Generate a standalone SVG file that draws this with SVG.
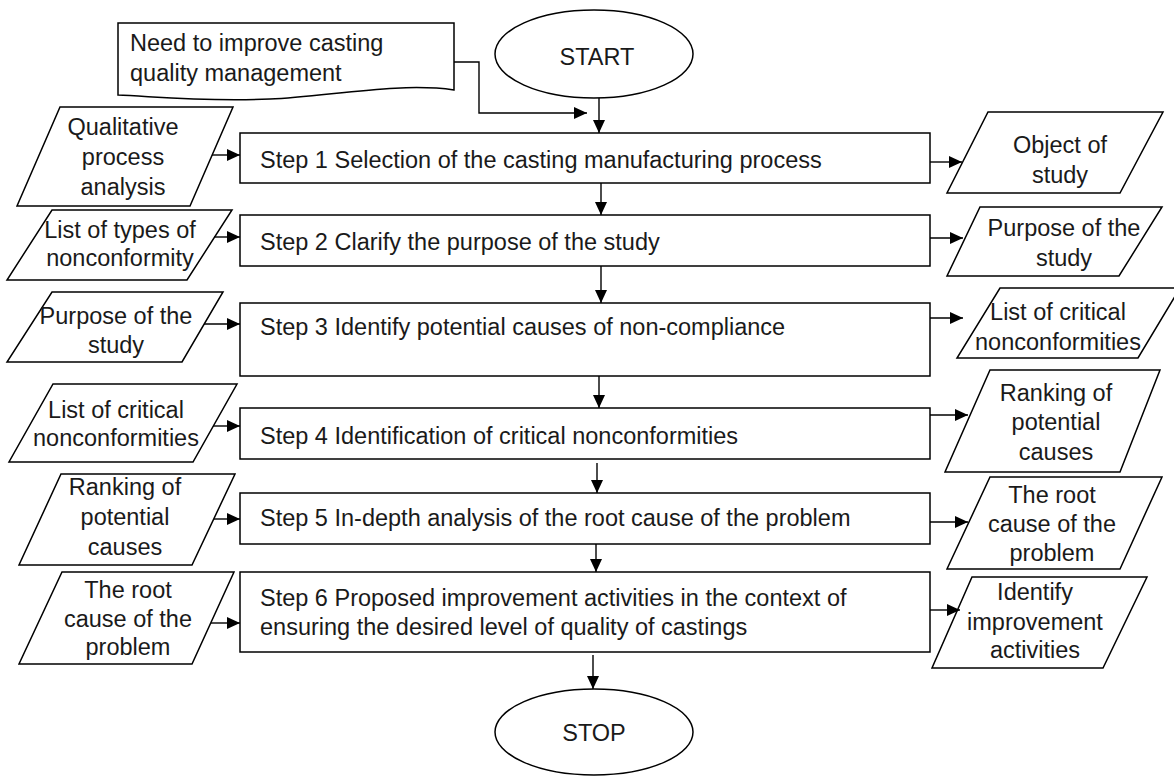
<svg xmlns="http://www.w3.org/2000/svg" width="1174" height="776" viewBox="0 0 1174 776">
<style>
.s{fill:#fff;stroke:#000;stroke-width:1.5}
.t{font-family:"Liberation Sans",Arial,sans-serif;font-size:23.5px;fill:#1a1a1a}
.c{text-anchor:middle}
.ln{fill:none;stroke:#000;stroke-width:1.4}
</style>
<defs>
<marker id="ah" markerWidth="13" markerHeight="12" refX="13" refY="6" orient="auto" markerUnits="userSpaceOnUse"><path d="M0,0 L13,6 L0,12 z" fill="#000"/></marker>
</defs>
<rect width="1174" height="776" fill="#fff"/>

<g id="need">
<path class="s" d="M118,23 H454 V90 C400,82 330,96 270,99 C200,102 150,96 118,95 Z"/>
<text class="t" x="130" y="51">Need to improve casting</text>
<text class="t" x="130" y="81">quality management</text>
</g>
<g id="start">
<ellipse class="s" cx="594" cy="54" rx="99" ry="44"/>
<text class="t c" x="597" y="65">START</text>
</g>

<g id="step1"><rect class="s" x="240" y="133" width="690" height="50"/><text class="t" x="260" y="168">Step 1 Selection of the casting manufacturing process</text></g>
<g id="step2"><rect class="s" x="240" y="215" width="690" height="51"/><text class="t" x="260" y="250">Step 2 Clarify the purpose of the study</text></g>
<g id="step3"><rect class="s" x="240" y="303" width="690" height="73"/><text class="t" x="260" y="335">Step 3 Identify potential causes of non-compliance</text></g>
<g id="step4"><rect class="s" x="240" y="408" width="690" height="51"/><text class="t" x="260" y="444">Step 4 Identification of critical nonconformities</text></g>
<g id="step5"><rect class="s" x="240" y="493" width="690" height="51"/><text class="t" x="260" y="526">Step 5 In-depth analysis of the root cause of the problem</text></g>
<g id="step6"><rect class="s" x="240" y="572" width="690" height="80"/><text class="t" x="260" y="606">Step 6 Proposed improvement activities in the context of</text><text class="t" x="260" y="635">ensuring the desired level of quality of castings</text></g>

<g id="stop">
<ellipse class="s" cx="594" cy="732" rx="99" ry="43"/>
<text class="t c" x="594" y="741">STOP</text>
</g>

<g id="in1"><path class="s" d="M60,107 H233 L190,206 H17 Z"/><text class="t c" x="123" y="135">Qualitative</text><text class="t c" x="123" y="165">process</text><text class="t c" x="123" y="195">analysis</text></g>
<g id="in2"><path class="s" d="M52,210 H232 L187,280 H7 Z"/><text class="t c" x="120" y="238">List of types of</text><text class="t c" x="120" y="266">nonconformity</text></g>
<g id="in3"><path class="s" d="M52,292 H223 L182,362 H7 Z"/><text class="t c" x="116" y="324">Purpose of the</text><text class="t c" x="116" y="353">study</text></g>
<g id="in4"><path class="s" d="M53,384 H237 L193,462 H9 Z"/><text class="t c" x="116" y="418">List of critical</text><text class="t c" x="116" y="446">nonconformities</text></g>
<g id="in5"><path class="s" d="M61,474 H235 L192,565 H19 Z"/><text class="t c" x="125" y="495">Ranking of</text><text class="t c" x="125" y="525">potential</text><text class="t c" x="125" y="555">causes</text></g>
<g id="in6"><path class="s" d="M62,572 H234 L192,664 H19 Z"/><text class="t c" x="128" y="598">The root</text><text class="t c" x="128" y="627">cause of the</text><text class="t c" x="128" y="655">problem</text></g>

<g id="out1"><path class="s" d="M988,112 H1163 L1120,193 H947 Z"/><text class="t c" x="1060" y="153">Object of</text><text class="t c" x="1060" y="183">study</text></g>
<g id="out2"><path class="s" d="M980,207 H1162 L1119,276 H947 Z"/><text class="t c" x="1064" y="236">Purpose of the</text><text class="t c" x="1064" y="266">study</text></g>
<g id="out3"><path class="s" d="M1000,288 H1180 L1138,358 H957 Z"/><text class="t c" x="1058" y="320">List of critical</text><text class="t c" x="1058" y="350">nonconformities</text></g>
<g id="out4"><path class="s" d="M990,370 H1160 L1120,472 H945 Z"/><text class="t c" x="1056" y="401">Ranking of</text><text class="t c" x="1056" y="430">potential</text><text class="t c" x="1056" y="460">causes</text></g>
<g id="out5"><path class="s" d="M990,477 H1162 L1120,569 H947 Z"/><text class="t c" x="1052" y="503">The root</text><text class="t c" x="1052" y="532">cause of the</text><text class="t c" x="1052" y="561">problem</text></g>
<g id="out6"><path class="s" d="M972,577 H1147 L1103,668 H932 Z"/><text class="t c" x="1035" y="600">Identify</text><text class="t c" x="1035" y="630">improvement</text><text class="t c" x="1035" y="658">activities</text></g>

<g id="connectors">
<path class="ln" marker-end="url(#ah)" d="M454,62 H479 V113 H587"/>
<path class="ln" marker-end="url(#ah)" d="M599,98 V133"/>
<path class="ln" marker-end="url(#ah)" d="M601,183 V215"/>
<path class="ln" marker-end="url(#ah)" d="M601,266 V303"/>
<path class="ln" marker-end="url(#ah)" d="M599,376 V408"/>
<path class="ln" marker-end="url(#ah)" d="M597,463 V493"/>
<path class="ln" marker-end="url(#ah)" d="M596,544 V572"/>
<path class="ln" marker-end="url(#ah)" d="M593,655 V689"/>
<path class="ln" marker-end="url(#ah)" d="M212,155 H240"/>
<path class="ln" marker-end="url(#ah)" d="M214,237 H240"/>
<path class="ln" marker-end="url(#ah)" d="M204,324 H240"/>
<path class="ln" marker-end="url(#ah)" d="M213,426 H240"/>
<path class="ln" marker-end="url(#ah)" d="M214,519 H240"/>
<path class="ln" marker-end="url(#ah)" d="M211,623 H240"/>
<path class="ln" marker-end="url(#ah)" d="M930,162 H962"/>
<path class="ln" marker-end="url(#ah)" d="M930,238 H963"/>
<path class="ln" marker-end="url(#ah)" d="M930,318 H963"/>
<path class="ln" marker-end="url(#ah)" d="M930,415 H968"/>
<path class="ln" marker-end="url(#ah)" d="M930,522 H968"/>
<path class="ln" marker-end="url(#ah)" d="M930,610 H960"/>
</g>
</svg>
